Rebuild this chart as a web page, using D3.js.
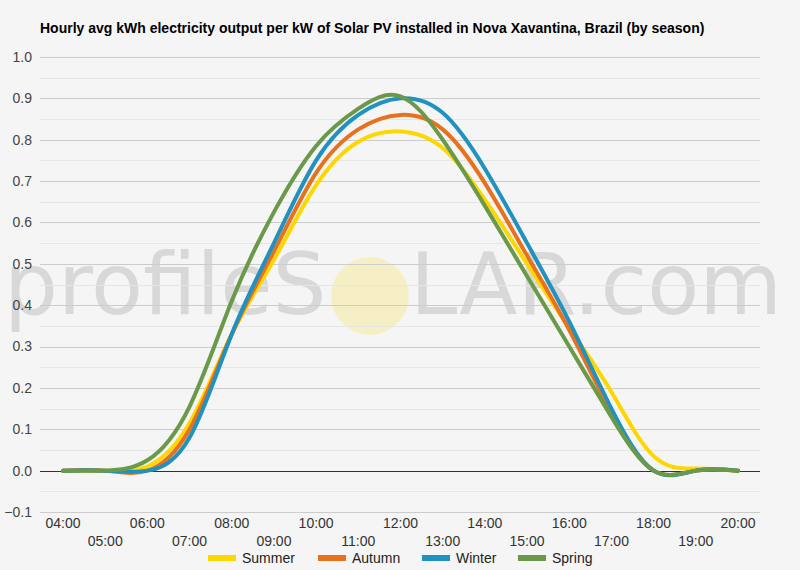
<!DOCTYPE html>
<html>
<head>
<meta charset="utf-8">
<script src="https://cdn.jsdelivr.net/npm/d3@7"></script>
<style>
  html, body { margin: 0; padding: 0; background: #f5f5f5; }
  svg { display: block; font-family: Arial, 'Liberation Sans', sans-serif; }
</style>
</head>
<body>
<div id="chart"></div>
<script>
// hours of the day shown on the x axis
var hours = [4, 5, 6, 7, 8, 9, 10, 11, 12, 13, 14, 15, 16, 17, 18, 19, 20]

// avg kWh per kW, one value per hour (04:00 .. 20:00)
var summer = [0, 0, 0.01, 0.115, 0.33, 0.51, 0.69, 0.795, 0.82, 0.78, 0.655, 0.50, 0.345, 0.19, 0.035, 0.005, 0]
var autumn = [0, 0, 0, 0.10, 0.33, 0.53, 0.72, 0.825, 0.86, 0.825, 0.695, 0.52, 0.34, 0.14, 0, 0, 0]
var winter = [0, 0, 0, 0.08, 0.33, 0.55, 0.75, 0.86, 0.90, 0.865, 0.73, 0.55, 0.36, 0.15, 0, 0, 0]
var spring = [0, 0, 0.025, 0.155, 0.41, 0.625, 0.785, 0.875, 0.905, 0.80, 0.64, 0.47, 0.30, 0.13, 0, 0, 0]

var seasons = ['Summer', 'Autumn', 'Winter', 'Spring']
var colors = ['#ffd700', '#e8711e', '#2191c0', '#6a994a']
var yTicks = [-0.1, 0, 0.1, 0.2, 0.3, 0.4, 0.5, 0.6, 0.7, 0.8, 0.9, 1.0]

var width = 800,
    height = 570,
    plot = { left: 40, right: 760, top: 57, bottom: 512 }

var svg = d3.select('#chart').append('svg')
    .attr('width', width)
    .attr('height', height)

svg.append('rect')
    .attr('width', width)
    .attr('height', height)
    .attr('fill', '#f5f5f5')

var x = d3.scaleLinear().domain([4, 20]).range([63, 738])
var y = d3.scaleLinear().domain([-0.1, 1.0]).range([plot.bottom, plot.top])

// watermark
var wm = svg.append('g').attr('class', 'watermark')
wm.append('text')
    .attr('x', 4)
    .attr('y', 314)
    .attr('font-family', "'DejaVu Sans', sans-serif")
    .attr('font-size', 85)
    .attr('fill', '#d8d8d8')
    .text('profileS')
wm.append('circle')
    .attr('cx', 370)
    .attr('cy', 296)
    .attr('r', 39)
    .attr('fill', '#f6efc6')
wm.append('text')
    .attr('x', 410)
    .attr('y', 314)
    .attr('font-family', "'DejaVu Sans', sans-serif")
    .attr('font-size', 85)
    .attr('fill', '#d8d8d8')
    .text('LAR.com')

// gridlines, minor every 0.05
var minor = d3.range(-0.05, 1.0, 0.1)
svg.append('g').selectAll('line')
    .data(minor)
    .enter().append('line')
    .attr('x1', plot.left).attr('x2', plot.right)
    .attr('y1', function (d) { return Math.round(y(d)) + 0.5 })
    .attr('y2', function (d) { return Math.round(y(d)) + 0.5 })
    .attr('stroke', '#e6e6e6')

svg.append('g').selectAll('line')
    .data(yTicks)
    .enter().append('line')
    .attr('x1', plot.left).attr('x2', plot.right)
    .attr('y1', function (d) { return Math.round(y(d)) + 0.5 })
    .attr('y2', function (d) { return Math.round(y(d)) + 0.5 })
    .attr('stroke', function (d) { return d === 0 ? '#333' : '#cccccc' })

// y labels
svg.append('g').selectAll('text')
    .data(yTicks)
    .enter().append('text')
    .attr('x', 32)
    .attr('y', function (d) { return y(d) })
    .attr('dy', '0.35em')
    .attr('text-anchor', 'end')
    .attr('font-size', 14)
    .attr('fill', '#444')
    .text(function (d) { return d3.format('.1f')(d) })

// x labels, alternating rows
svg.append('g').selectAll('text')
    .data(hours)
    .enter().append('text')
    .attr('x', function (d) { return x(d) })
    .attr('y', function (d) { return d % 2 === 0 ? 528 : 546 })
    .attr('text-anchor', 'middle')
    .attr('font-size', 14)
    .attr('fill', '#333')
    .text(function (d) { return d3.format('02d')(d) + ':00' })

// series lines
var series = [summer, autumn, winter, spring]

var line = d3.line()
    .x(function (d, i) { return x(hours[i]) })
    .y(function (d) { return y(d) })
    .curve(d3.curveNatural)

svg.append('g').selectAll('path')
    .data(series)
    .enter().append('path')
    .attr('d', line)
    .attr('fill', 'none')
    .attr('stroke', function (d, i) { return colors[i] })
    .attr('stroke-width', 4)
    .attr('stroke-linejoin', 'round')
    .attr('stroke-linecap', 'round')

// legend
var legendX = [208, 318, 422, 518]
var legend = svg.append('g').selectAll('g')
    .data(seasons)
    .enter().append('g')
    .attr('transform', function (d, i) { return 'translate(' + legendX[i] + ',558)' })

legend.append('rect')
    .attr('x', 0)
    .attr('y', -3)
    .attr('width', 28)
    .attr('height', 6)
    .attr('fill', function (d, i) { return colors[i] })

legend.append('text')
    .attr('x', 34)
    .attr('y', 5)
    .attr('font-size', 14)
    .attr('fill', '#222')
    .text(function (d) { return d })

// title
svg.append('text')
    .attr('x', 40)
    .attr('y', 33)
    .attr('font-size', 14)
    .attr('font-weight', 'bold')
    .attr('fill', '#000')
    .text('Hourly avg kWh electricity output per kW of Solar PV installed in Nova Xavantina, Brazil (by season)')
</script>
</body>
</html>
